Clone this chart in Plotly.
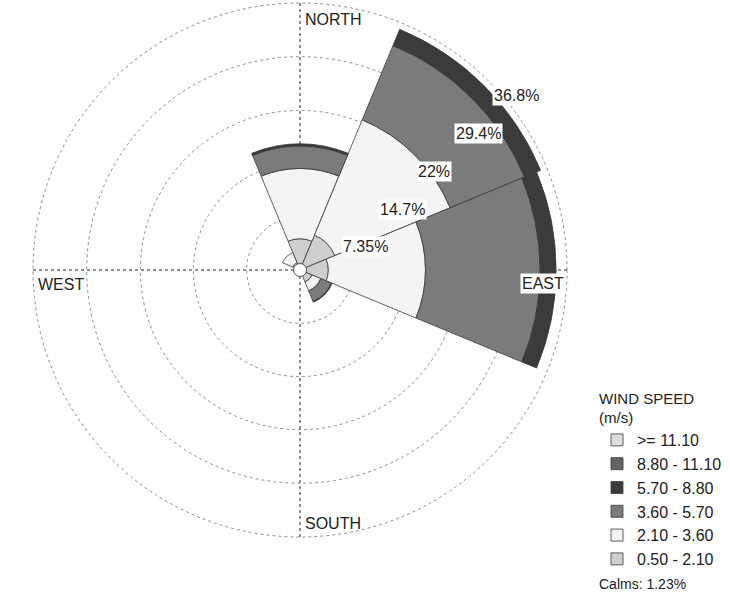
import plotly.graph_objects as go
import math

# ---------------- data ----------------
directions = ["N", "NE", "E", "SE", "S", "SW", "W", "NW"]
direction_deg = [0, 45, 90, 135, 180, 225, 270, 315]

speed_bins = ["0.50 - 2.10", "2.10 - 3.60", "3.60 - 5.70",
              "5.70 - 8.80", "8.80 - 11.10", ">= 11.10"]

freq_050_210 = [4.3, 5.2, 3.9, 1.8, 0.0, 0.0, 0.0, 1.1]
freq_210_360 = [9.7, 17.2, 13.4, 1.3, 0.0, 0.0, 0.0, 1.5]
freq_360_570 = [3.1, 11.1, 15.8, 1.6, 0.0, 0.0, 0.0, 0.0]
freq_570_880 = [0.3, 2.4, 2.2, 0.1, 0.0, 0.0, 0.0, 0.0]
freq_880_1110 = [0.0, 0.0, 0.0, 0.0, 0.0, 0.0, 0.0, 0.0]
freq_ge_1110 = [0.0, 0.0, 0.0, 0.0, 0.0, 0.0, 0.0, 0.0]

ring_values = [7.35, 14.7, 22, 29.4, 36.8]
ring_labels = ["7.35%", "14.7%", "22%", "29.4%", "36.8%"]
calms_pct = 1.23
compass_labels = ["NORTH", "EAST", "SOUTH", "WEST"]

# ---------------- style ----------------
series = [freq_050_210, freq_210_360, freq_360_570,
          freq_570_880, freq_880_1110, freq_ge_1110]
colors = ["#cfcfcf", "#f4f4f4", "#7b7b7b", "#3b3b3b", "#636363", "#dcdcdc"]

W, H = 730, 600
CX, CY, R = 300, 270, 267          # pixel centre / radius of outer ring
RMAX = ring_values[-1]
PAD = 1.004                        # tiny headroom so the outer ring grid is drawn
RP = R * PAD
FONT = "Liberation Sans, Arial, sans-serif"


def px(x):
    return min(max(x / W, 0), 1)


def py(y):
    return min(max(1 - y / H, 0), 1)


fig = go.Figure()
for name, vals, col in zip(speed_bins, series, colors):
    fig.add_trace(go.Barpolar(
        r=[v if v > 0 else None for v in vals],
        theta=direction_deg,
        width=[45] * len(direction_deg),
        name=name,
        marker=dict(color=col, line=dict(color="#3a3a3a", width=0.8)),
        hovertext=directions,
    ))

# calms circle in the centre
fig.add_trace(go.Scatterpolar(
    r=[0], theta=[0], mode="markers", showlegend=False,
    marker=dict(size=13, color="white", line=dict(color="#555555", width=1)),
    hovertext=[f"Calms: {calms_pct}%"],
))

annotations = []
# ring labels placed along the 45 degree ray
for val, lab in zip(ring_values, ring_labels):
    f = val / RMAX
    x = CX + R * f * math.sin(math.radians(45))
    y = CY - R * f * math.cos(math.radians(45))
    annotations.append(dict(
        x=px(x), y=py(y), xref="paper", yref="paper", text=lab,
        showarrow=False, xanchor="left", yanchor="top", xshift=3, yshift=-4,
        bgcolor="white", borderpad=1,
        font=dict(family=FONT, size=16, color="#222222")))

# compass labels
annotations += [
    dict(x=px(CX), y=py(CY - R), text=compass_labels[0], xanchor="left",
         yanchor="top", xshift=3, yshift=-6),
    dict(x=px(CX + R), y=py(CY), text=compass_labels[1], xanchor="right",
         yanchor="top", xshift=-1, yshift=-3, bgcolor="white"),
    dict(x=px(CX), y=py(CY + R), text=compass_labels[2], xanchor="left",
         yanchor="bottom", xshift=3, yshift=3),
    dict(x=px(CX - R), y=py(CY), text=compass_labels[3], xanchor="left",
         yanchor="top", xshift=3, yshift=-4),
]
for a in annotations[-4:]:
    a.update(xref="paper", yref="paper", showarrow=False, borderpad=1,
             font=dict(family=FONT, size=16, color="#222222"))

annotations.append(dict(
    x=px(597), y=py(584), xref="paper", yref="paper",
    text=f"Calms: {calms_pct}%", showarrow=False, xanchor="left",
    yanchor="middle", font=dict(family=FONT, size=14, color="#222222")))

fig.update_layout(
    width=W, height=H,
    margin=dict(l=0, r=0, t=0, b=0),
    paper_bgcolor="white",
    font=dict(family=FONT, color="#222222"),
    polar=dict(
        domain=dict(x=[px(CX - RP), px(CX + RP)], y=[py(CY + RP), py(CY - RP)]),
        bgcolor="white",
        barmode="stack",
        radialaxis=dict(range=[0, RMAX * PAD], tickvals=ring_values,
                        showticklabels=False, ticks="", showline=False,
                        gridcolor="#8c8c8c", griddash="dot", gridwidth=1),
        angularaxis=dict(rotation=90, direction="clockwise",
                         tickvals=[0, 90, 180, 270], showticklabels=False,
                         ticks="", showline=False,
                         gridcolor="#222222", griddash="dot", gridwidth=1),
    ),
    legend=dict(
        x=px(597), y=py(384), xanchor="left", yanchor="top",
        traceorder="reversed",
        title=dict(text="WIND SPEED<br>(m/s)", side="top",
                   font=dict(family=FONT, size=15, color="#222222")),
        font=dict(family=FONT, size=16, color="#222222"),
        bgcolor="rgba(0,0,0,0)",
    ),
    annotations=annotations,
)

fig.write_html("out.html")
